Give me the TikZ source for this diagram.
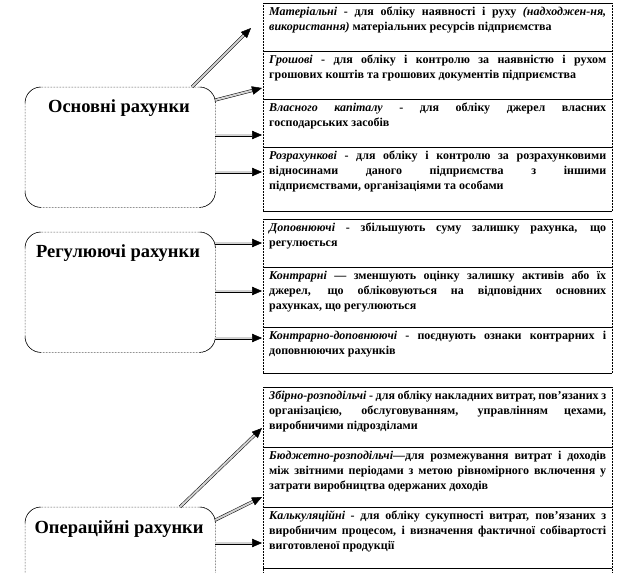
\documentclass[tikz,border=0pt]{standalone}
\usepackage{fontspec}
\setmainfont{Liberation Serif}
\usetikzlibrary{arrows.meta,calc}
\begin{document}
\begin{tikzpicture}[x=1pt,y=-1pt,
 sect/.style={anchor=north west, text width=337pt, inner xsep=6pt, inner ysep=3.5pt, align=justify, font=\fontsize{12}{15}\selectfont\bfseries},
 grp/.style={anchor=north west, minimum width=190pt, minimum height=120pt, inner sep=0pt},
 ttl/.style={font=\fontsize{18.5}{20}\selectfont\bfseries},
 arr/.style={draw=black, line width=0.5pt, double=gray!35, double distance=2pt, -{Triangle[length=10pt,width=8.5pt]}},
 side/.style={line width=0.5pt, densely dotted},
 hline/.style={line width=0.8pt}]
\useasboundingbox (0,0) rectangle (624,573);

% left group boxes
\node[grp] (osn) at (25,87) {};
\node[grp] (reg) at (25,232) {};
\node[grp] (op) at (25,507) {};
\foreach \n in {osn,reg,op}{
  \draw[side, rounded corners=16pt] (\n.north west) rectangle (\n.south east);
  \draw[line width=0.5pt, rounded corners=16pt] ($(\n.north west)+(0,16)$) -- (\n.north west) -- ($(\n.north west)+(16,0)$);
  \draw[line width=0.5pt, rounded corners=16pt] ($(\n.north east)+(-16,0)$) -- (\n.north east) -- ($(\n.north east)+(0,16)$);
  \draw[line width=0.5pt, rounded corners=16pt] ($(\n.south west)+(0,-16)$) -- (\n.south west) -- ($(\n.south west)+(16,0)$);
  \draw[line width=0.5pt, rounded corners=16pt] ($(\n.south east)+(-16,0)$) -- (\n.south east) -- ($(\n.south east)+(0,-16)$);
}
\node[ttl] (osnT) at (119,108) {Основні рахунки};
\node[ttl] (regT) at (118,253) {Регулюючі рахунки};
\node[ttl] (opT) at (119,529) {Операційні рахунки};

% right frames
\draw[side] (263,3) -- (263,211) (612,3) -- (612,211);
\draw[side] (263,219) -- (263,373) (612,219) -- (612,373);
\draw[side] (263,387) -- (263,573) (612,387) -- (612,573);
\foreach \y in {3,51,99,147,211,219,267,327,373,387,447,507,568}
  \draw[hline] (263,\y) -- (612,\y);

% sections
\node[sect] (m1) at (263,3) {\textit{Матеріальні} - для обліку наявності і руху \textit{(надходжен-ня,}\linebreak \textit{використання)} матеріальних ресурсів підприємства};
\node[sect] (m2) at (263,51) {\textit{Грошові} - для обліку і контролю за наявністю і рухом\linebreak грошових коштів та грошових документів підприємства};
\node[sect] (m3) at (263,99) {\textit{Власного капіталу} - для обліку джерел власних\linebreak господарських засобів};
\node[sect] (m4) at (263,147) {\textit{Розрахункові} - для обліку і контролю за розрахунковими\linebreak відносинами даного підприємства з іншими\linebreak підприємствами, організаціями та особами};
\node[sect] (r1) at (263,219) {\textit{Доповнюючі} - збільшують суму залишку рахунка, що\linebreak регулюється};
\node[sect] (r2) at (263,267) {\textit{Контрарні} — зменшують оцінку залишку активів або їх\linebreak джерел, що обліковуються на відповідних основних\linebreak рахунках, що регулюються};
\node[sect] (r3) at (263,327) {\textit{Контрарно-доповнюючі} - поєднують ознаки контрарних і\linebreak доповнюючих рахунків};
\node[sect] (z1) at (263,387) {\textit{Збірно-розподільчі} - для обліку накладних витрат, пов'язаних з\linebreak організацією, обслуговуванням, управлінням цехами,\linebreak виробничими підрозділами};
\node[sect] (z2) at (263,447) {\textit{Бюджетно-розподільчі}—для розмежування витрат і доходів\linebreak між звітними періодами з метою рівномірного включення у\linebreak затрати виробництва одержаних доходів};
\node[sect] (z3) at (263,507) {\textit{Калькуляційні} - для обліку сукупності витрат, пов'язаних з\linebreak виробничим процесом, і визначення фактичної собівартості\linebreak виготовленої продукції};

% arrow targets
\coordinate (t1) at ($(m1.north west)+(-12,25)$);
\coordinate (t2) at ($(m2.north west)+(-1,37)$);
\coordinate (t3) at ($(m3.north west)+(-1,36)$);
\coordinate (t4) at ($(m4.north west)+(-1,25)$);
\coordinate (u1) at ($(r1.north west)+(-1,24)$);
\coordinate (u2) at ($(r2.north west)+(-1,24)$);
\coordinate (u3) at ($(r3.north west)+(-1,11)$);
\coordinate (v1) at ($(z1.north west)+(-1,41)$);
\coordinate (v2) at ($(z2.north west)+(-1,50)$);
\coordinate (v3) at ($(z3.north west)+(-1,36)$);

% arrows
\draw[arr] ($(osn.north west)+(167,0)$) -- (t1);
\draw[arr] ($(osn.north east)+(0,13)$) -- (t2);
\draw[arr] (osn.east |- t3) -- (t3);
\draw[arr] (osn.east |- t4) -- (t4);
\draw[arr] (reg.east |- u1) -- (u1);
\draw[arr] (reg.east |- u2) -- (u2);
\draw[arr] (reg.east |- u3) -- (u3);
\draw[arr] ($(op.north west)+(155,0)$) -- (v1);
\draw[arr] ($(op.north east)+(0,13)$) -- (v2);
\draw[arr] (op.east |- v3) -- (v3);
\end{tikzpicture}
\end{document}
